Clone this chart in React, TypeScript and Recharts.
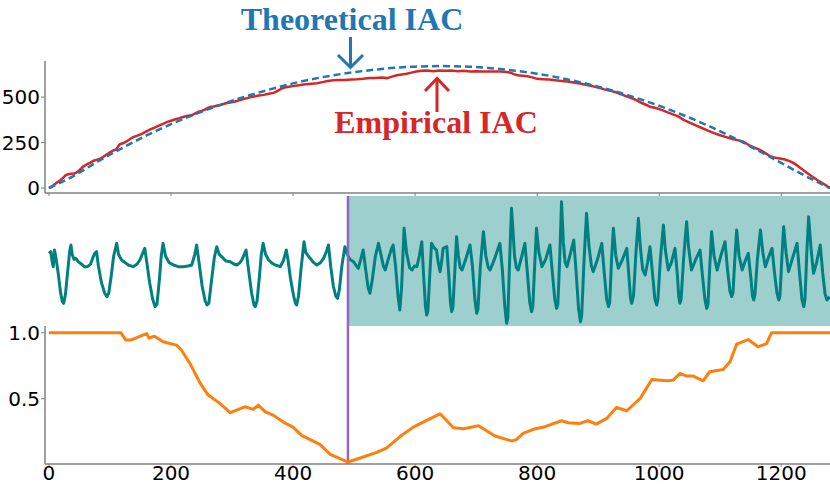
import React from "react";
import {
  LineChart,
  Line,
  XAxis,
  YAxis,
  ReferenceArea,
  ReferenceLine,
} from "recharts";

// shared x axis
const xTicks = [0, 200, 400, 600, 800, 1000, 1200];
const xDomain: [number, number] = [-6.5, 1280];
const changePoint = 490;

// top panel: theoretical vs empirical IAC
const theoreticalSteps = [
  0, 40, 80, 120, 160, 200, 240, 280, 320, 360, 400, 440, 480, 520, 560, 600,
  640, 680, 720, 760, 800, 840, 880, 920, 960, 1000, 1040, 1080, 1120, 1160,
  1200, 1240, 1280,
];
const theoreticalIac = [
  0, 66, 146, 220, 289, 351, 406, 456, 501, 540, 575, 604, 627, 645, 659, 667,
  670, 668, 660, 646, 628, 604, 574, 539, 498, 452, 400, 343, 280, 210, 138, 66,
  0,
];
const empiricalSteps = [
  0, 6, 12, 18, 23, 27, 31, 36, 41, 45, 50, 56, 62, 68, 73, 79, 84, 89, 95, 100,
  105, 110, 116, 121, 127, 133, 138, 145, 152, 159, 166, 173, 180, 187, 193,
  200, 207, 214, 221, 228, 235, 240, 245, 250, 255, 259, 264, 270, 275, 282,
  290, 297, 305, 313, 320, 328, 336, 344, 352, 360, 368, 374, 380, 386, 393,
  400, 410, 420, 430, 439, 448, 457, 466, 475, 485, 495, 505, 515, 525, 535,
  545, 554, 562, 570, 578, 586, 594, 602, 610, 620, 630, 640, 650, 660, 670,
  680, 690, 700, 710, 720, 730, 740, 750, 756, 762, 768, 776, 784, 792, 800,
  810, 820, 830, 840, 850, 860, 870, 880, 890, 900, 910, 920, 930, 940, 950,
  960, 970, 980, 985, 995, 1005, 1015, 1025, 1032, 1040, 1050, 1060, 1070,
  1080, 1090, 1100, 1110, 1120, 1130, 1138, 1146, 1155, 1166, 1174, 1182, 1190,
  1198, 1206, 1214, 1222, 1230, 1243, 1259, 1270, 1280,
];
const empiricalIac = [
  0, 12, 28, 42, 55, 70, 76, 79, 80, 85, 98, 118, 130, 140, 150, 156, 162, 172,
  185, 197, 206, 212, 240, 246, 256, 270, 280, 288, 298, 310, 322, 332, 343,
  353, 362, 370, 378, 384, 392, 398, 402, 410, 420, 424, 430, 438, 446, 448,
  452, 458, 466, 470, 476, 483, 490, 497, 503, 508, 512, 518, 523, 532, 545,
  552, 556, 560, 565, 570, 573, 576, 582, 588, 592, 594, 594, 597, 598, 600,
  604, 604, 607, 604, 612, 620, 624, 628, 634, 640, 645, 646, 642, 646, 644,
  646, 642, 644, 640, 642, 640, 641, 640, 640, 638, 634, 626, 620, 617, 614,
  608, 600, 598, 596, 592, 588, 585, 580, 574, 568, 560, 552, 542, 535, 525,
  512, 500, 487, 470, 455, 447, 440, 428, 414, 402, 392, 375, 360, 344, 330,
  316, 302, 290, 280, 270, 262, 255, 238, 223, 209, 192, 175, 166, 162, 157,
  148, 134, 115, 82, 44, 22, 0,
];

// middle panel: raw signal
const signalSteps = [
  0, 3, 5, 7, 9, 11, 15, 19, 22, 24, 27, 31, 34, 36, 38, 41, 44, 48, 53, 58, 63,
  68, 72, 75, 78, 81, 86, 91, 95, 98, 102, 106, 111, 114, 119, 125, 130, 138,
  144, 149, 154, 157, 160, 165, 170, 174, 177, 181, 184, 187, 191, 197, 204,
  212, 220, 228, 234, 239, 242, 246, 251, 256, 259, 262, 266, 271, 275, 279,
  283, 290, 297, 303, 308, 313, 316, 320, 323, 327, 332, 336, 338, 341, 345,
  348, 351, 355, 360, 366, 371, 379, 384, 389, 392, 396, 401, 404, 406, 409,
  413, 418, 421, 428, 434, 439, 445, 450, 455, 458, 462, 466, 470, 473, 476,
  480, 485, 489, 493, 499, 504, 507, 511, 515, 519, 523, 526, 530, 535, 540,
  544, 548, 551, 556, 561, 564, 568, 572, 575, 578, 582, 586, 591, 595, 599,
  603, 607, 611, 614, 617, 619, 621, 624, 627, 631, 635, 638, 641, 644, 646,
  652, 655, 658, 660, 662, 665, 668, 671, 674, 677, 683, 690, 694, 698, 701,
  703, 707, 712, 716, 720, 723, 730, 739, 743, 747, 750, 752, 755, 758, 760,
  763, 766, 769, 775, 780, 784, 788, 791, 793, 796, 799, 803, 808, 814, 821,
  825, 829, 832, 834, 837, 840, 843, 846, 849, 855, 860, 864, 868, 871, 873,
  877, 881, 885, 889, 892, 899, 906, 910, 914, 917, 919, 922, 925, 929, 933,
  940, 947, 950, 953, 955, 958, 962, 966, 969, 973, 977, 981, 985, 989, 993,
  996, 998, 1002, 1007, 1010, 1015, 1020, 1026, 1030, 1032, 1034, 1036, 1040,
  1045, 1048, 1053, 1060, 1067, 1071, 1075, 1078, 1080, 1083, 1086, 1090, 1095,
  1101, 1108, 1112, 1116, 1119, 1121, 1124, 1127, 1131, 1136, 1141, 1146, 1150,
  1153, 1155, 1157, 1161, 1166, 1170, 1174, 1179, 1185, 1189, 1193, 1196, 1198,
  1201, 1204, 1208, 1212, 1218, 1226, 1230, 1234, 1237, 1239, 1242, 1245, 1249,
  1253, 1258, 1264, 1268, 1272, 1275, 1280,
];
const signalValues = [
  21.8, 22.3, 19.5, 17.8, 22.8, 21.0, 16.0, 10.0, 7.3, 6.8, 9.5, 17.0, 22.5,
  24.3, 21.5, 20.0, 20.3, 19.3, 18.6, 17.8, 17.8, 18.5, 20.5, 21.8, 22.3, 18.0,
  13.0, 10.0, 8.8, 9.8, 15.0, 21.0, 24.8, 21.5, 19.8, 19.0, 18.3, 17.8, 18.5,
  19.8, 22.0, 23.3, 19.5, 13.0, 8.0, 5.8, 6.5, 14.0, 21.0, 24.8, 21.0, 19.0,
  18.3, 17.8, 17.8, 18.0, 18.3, 21.5, 24.3, 19.0, 12.0, 7.5, 6.3, 6.8, 13.0,
  20.5, 23.8, 21.5, 20.8, 19.5, 19.3, 18.6, 18.3, 19.0, 19.8, 21.5, 22.8, 17.0,
  10.0, 6.3, 5.8, 7.5, 15.0, 21.5, 24.8, 21.5, 19.8, 18.8, 18.3, 17.8, 19.5,
  22.8, 19.5, 14.0, 9.0, 6.8, 6.3, 9.0, 17.0, 25.3, 22.0, 20.3, 19.0, 18.3,
  19.0, 20.3, 22.5, 24.3, 17.5, 12.0, 9.0, 8.3, 11.0, 18.0, 23.8, 21.5, 20.0,
  19.3, 18.0, 17.3, 20.0, 22.8, 17.0, 11.5, 9.8, 14.0, 21.0, 24.8, 21.5, 18.0,
  16.8, 20.0, 23.0, 24.3, 18.0, 9.0, 4.8, 12.0, 29.3, 22.0, 17.5, 16.8, 18.0,
  17.8, 21.0, 25.3, 15.0, 6.0, 3.3, 4.5, 15.0, 24.8, 23.5, 22.8, 19.0, 16.3,
  20.0, 23.3, 23.8, 16.0, 7.0, 4.3, 5.5, 16.0, 26.8, 21.0, 17.5, 16.8, 20.0,
  24.3, 18.0, 8.0, 3.8, 5.0, 18.0, 28.3, 21.0, 17.5, 16.8, 20.0, 24.8, 17.0,
  6.0, 0.8, 2.5, 20.0, 35.3, 30.0, 21.0, 17.5, 16.8, 21.0, 24.8, 16.0, 7.0, 4.3,
  6.0, 18.0, 29.3, 22.0, 17.8, 20.0, 24.3, 16.0, 8.0, 5.3, 6.5, 20.0, 37.3,
  25.0, 19.0, 17.8, 22.0, 25.8, 16.0, 5.0, 1.3, 3.0, 20.0, 33.8, 24.0, 18.0,
  16.3, 20.0, 24.8, 16.0, 8.0, 5.8, 7.0, 20.0, 29.3, 21.0, 17.3, 20.0, 23.3,
  16.0, 8.5, 6.8, 9.0, 22.0, 32.3, 24.0, 17.0, 15.3, 19.0, 23.8, 16.0, 8.0, 6.3,
  8.0, 20.0, 30.3, 23.0, 16.8, 19.0, 23.3, 15.0, 9.0, 6.8, 8.0, 20.0, 31.3,
  24.0, 16.8, 20.0, 22.8, 15.0, 8.0, 5.3, 6.5, 18.0, 28.3, 21.0, 16.8, 21.0,
  25.3, 17.0, 10.5, 8.8, 10.0, 20.0, 28.8, 21.0, 16.8, 19.5, 21.8, 15.0, 9.0,
  7.8, 9.5, 20.0, 28.8, 22.0, 17.8, 20.5, 23.3, 16.0, 10.0, 7.8, 9.0, 20.0,
  29.8, 22.0, 16.3, 20.0, 24.8, 16.0, 8.0, 5.8, 8.0, 22.0, 32.8, 23.0, 15.8,
  19.0, 24.3, 16.0, 9.5, 7.8, 8.8,
];

// bottom panel: score
const scoreSteps = [
  0, 118, 126, 134, 160, 164, 173, 187, 209, 217, 231, 248, 261, 280, 297, 321,
  335, 343, 354, 368, 384, 400, 414, 444, 461, 490, 515, 537, 553, 576, 597,
  619, 641, 663, 679, 704, 731, 758, 766, 777, 794, 813, 840, 851, 870, 883,
  897, 914, 930, 947, 969, 988, 1012, 1023, 1034, 1045, 1056, 1072, 1083, 1105,
  1116, 1127, 1146, 1162, 1176, 1184, 1280,
];
const scoreValues = [
  1.0, 1.0, 0.945, 0.945, 0.995, 0.96, 0.975, 0.932, 0.907, 0.87, 0.768, 0.616,
  0.528, 0.465, 0.394, 0.439, 0.419, 0.452, 0.402, 0.374, 0.323, 0.285, 0.222,
  0.154, 0.078, 0.02, 0.058, 0.093, 0.126, 0.215, 0.285, 0.336, 0.386, 0.28,
  0.273, 0.295, 0.217, 0.18, 0.19, 0.237, 0.268, 0.288, 0.333, 0.318, 0.313,
  0.333, 0.308, 0.351, 0.434, 0.409, 0.503, 0.646, 0.636, 0.641, 0.692, 0.672,
  0.672, 0.636, 0.705, 0.722, 0.78, 0.914, 0.949, 0.894, 0.919, 1.0, 1.0,
];

const zip = (xs: number[], ys: number[]) => xs.map((x, i) => ({ x, y: ys[i] }));

const theoretical = zip(theoreticalSteps, theoreticalIac);
const empirical = zip(empiricalSteps, empiricalIac);
const signal = zip(signalSteps, signalValues);
const score = zip(scoreSteps, scoreValues);

const spine = { stroke: "#808080", strokeWidth: 1.5 };
const tickText = { fill: "#000", fontSize: 20, fontFamily: "DejaVu Sans" };

export default function App() {
  return (
    <div
      style={{
        position: "absolute",
        left: 0,
        top: 0,
        width: 830,
        height: 484,
        background: "#fff",
        overflow: "hidden",
      }}
    >
      {/* top: IAC */}
      <div style={{ position: "absolute", left: 0, top: 0 }}>
        <LineChart
          width={830}
          height={200}
          margin={{ top: 61, right: 0, bottom: 0, left: 0 }}
        >
          <XAxis
            type="number"
            dataKey="x"
            domain={xDomain}
            ticks={xTicks}
            interval={0}
            allowDataOverflow
            height={7}
            tickSize={3}
            tickFormatter={() => ""}
            axisLine={spine}
            tickLine={{ stroke: "#808080" }}
          />
          <YAxis
            type="number"
            domain={[-27, 698]}
            ticks={[0, 250, 500]}
            interval={0}
            allowDataOverflow
            width={45}
            tickSize={4}
            tickMargin={1}
            tick={tickText}
            axisLine={spine}
            tickLine={{ stroke: "#808080" }}
          />
          <Line
            data={empirical}
            dataKey="y"
            stroke="#d62728"
            strokeWidth={2.5}
            dot={false}
            isAnimationActive={false}
          />
          <Line
            data={theoretical}
            dataKey="y"
            type="monotone"
            stroke="#1f77b4"
            strokeWidth={2.5}
            strokeDasharray="7 4"
            dot={false}
            isAnimationActive={false}
          />
        </LineChart>
      </div>

      {/* middle: signal */}
      <div style={{ position: "absolute", left: 0, top: 196 }}>
        <LineChart
          width={830}
          height={130}
          margin={{ top: 0, right: 0, bottom: 0, left: 45 }}
        >
          <XAxis
            type="number"
            dataKey="x"
            domain={xDomain}
            allowDataOverflow
            hide
          />
          <YAxis type="number" domain={[0, 39]} hide />
          <ReferenceArea
            x1={changePoint}
            x2={1280}
            fill="#008080"
            fillOpacity={0.38}
            stroke="none"
          />
          <Line
            data={signal}
            dataKey="y"
            stroke="#008080"
            strokeWidth={3}
            strokeLinejoin="round"
            dot={false}
            isAnimationActive={false}
          />
          <ReferenceLine x={changePoint} stroke="#9467bd" strokeWidth={2.5} />
        </LineChart>
      </div>

      {/* bottom: score (svg starts higher so the 1.0 label is not clipped) */}
      <div style={{ position: "absolute", left: 0, top: 300 }}>
        <LineChart
          width={830}
          height={184}
          margin={{ top: 26, right: 0, bottom: 0, left: 0 }}
        >
          <XAxis
            type="number"
            dataKey="x"
            domain={xDomain}
            ticks={xTicks}
            interval={0}
            allowDataOverflow
            height={20}
            tickSize={3}
            tickMargin={-1}
            tick={tickText}
            axisLine={spine}
            tickLine={{ stroke: "#808080" }}
          />
          <YAxis
            type="number"
            domain={[0.005, 1.052]}
            ticks={[0.5, 1.0]}
            interval={0}
            tickFormatter={(v: number) => v.toFixed(1)}
            allowDataOverflow
            width={45}
            tickSize={4}
            tickMargin={1}
            tick={tickText}
            axisLine={spine}
            tickLine={{ stroke: "#808080" }}
          />
          <ReferenceLine x={changePoint} stroke="#9467bd" strokeWidth={2.5} />
          <Line
            data={score}
            dataKey="y"
            stroke="#ff7f0e"
            strokeWidth={3}
            strokeLinejoin="round"
            dot={false}
            isAnimationActive={false}
          />
        </LineChart>
      </div>

      {/* annotations */}
      <svg
        width={830}
        height={484}
        style={{ position: "absolute", left: 0, top: 0, pointerEvents: "none" }}
      >
        <text
          x={352}
          y={30}
          textAnchor="middle"
          fill="#1f77b4"
          fontFamily="Liberation Serif"
          fontWeight="bold"
          fontSize={32}
        >
          Theoretical IAC
        </text>
        <g stroke="#1f77b4" strokeWidth={3} fill="none">
          <line x1={350.5} y1={37} x2={350.5} y2={67} />
          <polyline points="338,55 350.5,67.5 363,55" />
        </g>
        <text
          x={436}
          y={133}
          textAnchor="middle"
          fill="#d62728"
          fontFamily="Liberation Serif"
          fontWeight="bold"
          fontSize={32}
        >
          Empirical IAC
        </text>
        <g stroke="#d62728" strokeWidth={3} fill="none">
          <line x1={437} y1={79} x2={437} y2={112} />
          <polyline points="425,91 437,78.5 449,91" />
        </g>
      </svg>
    </div>
  );
}
